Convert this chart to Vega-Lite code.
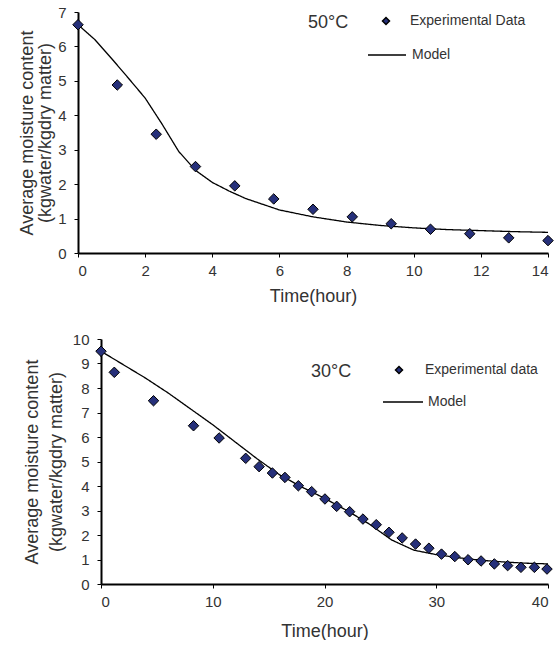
{
  "$schema": "https://vega.github.io/schema/vega-lite/v6.json",
  "background": "white",
  "padding": {"left": 18, "top": 5, "right": 0, "bottom": 0},
  "spacing": 27,
  "resolve": {"scale": {"shape": "independent", "strokeDash": "independent"}, "legend": {"shape": "independent", "strokeDash": "independent"}},
  "config": {
    "view": {"stroke": null},
    "font": "Liberation Sans",
    "axis": {
      "grid": false,
      "domainColor": "black",
      "domainWidth": 2,
      "tickColor": "black",
      "tickWidth": 1,
      "tickSize": 4,
      "labelFontSize": 15,
      "labelColor": "#333333",
      "labelOverlap": false,
      "titleFontSize": 18,
      "titleFontWeight": "normal",
      "titleColor": "#333333",
      "titleLineHeight": 18,
      "labelPadding": 6
    },
    "legend": {
      "orient": "none",
      "titleOrient": "left",
      "titleAnchor": "start",
      "titleFontSize": 18,
      "titleFontWeight": "normal",
      "titleColor": "#333333",
      "labelFontSize": 14,
      "labelColor": "#333333",
      "padding": 0
    }
  },
  "datasets": {
    "exp50": [
      {"t": 0, "m": 6.63, "series": "Experimental Data"},
      {"t": 1.17, "m": 4.88, "series": "Experimental Data"},
      {"t": 2.33, "m": 3.45, "series": "Experimental Data"},
      {"t": 3.5, "m": 2.51, "series": "Experimental Data"},
      {"t": 4.67, "m": 1.95, "series": "Experimental Data"},
      {"t": 5.83, "m": 1.57, "series": "Experimental Data"},
      {"t": 7, "m": 1.27, "series": "Experimental Data"},
      {"t": 8.17, "m": 1.05, "series": "Experimental Data"},
      {"t": 9.33, "m": 0.85, "series": "Experimental Data"},
      {"t": 10.5, "m": 0.69, "series": "Experimental Data"},
      {"t": 11.67, "m": 0.56, "series": "Experimental Data"},
      {"t": 12.83, "m": 0.44, "series": "Experimental Data"},
      {"t": 14, "m": 0.36, "series": "Experimental Data"}
    ],
    "model50": [
      {"t": 0, "m": 6.63, "series": "Model"}, {"t": 0.5, "m": 6.2, "series": "Model"}, {"t": 1, "m": 5.65, "series": "Model"}, {"t": 1.5, "m": 5.08, "series": "Model"},
      {"t": 2, "m": 4.5, "series": "Model"}, {"t": 2.5, "m": 3.75, "series": "Model"}, {"t": 3, "m": 2.95, "series": "Model"}, {"t": 3.5, "m": 2.4, "series": "Model"},
      {"t": 4, "m": 2.05, "series": "Model"}, {"t": 4.5, "m": 1.8, "series": "Model"}, {"t": 5, "m": 1.58, "series": "Model"}, {"t": 6, "m": 1.25, "series": "Model"},
      {"t": 7, "m": 1.05, "series": "Model"}, {"t": 8, "m": 0.9, "series": "Model"}, {"t": 9, "m": 0.8, "series": "Model"}, {"t": 10, "m": 0.73, "series": "Model"},
      {"t": 11, "m": 0.68, "series": "Model"}, {"t": 12, "m": 0.65, "series": "Model"}, {"t": 13, "m": 0.62, "series": "Model"}, {"t": 14, "m": 0.6, "series": "Model"}
    ],
    "exp30": [
      {"t": 0, "m": 9.5, "series": "Experimental data"},
      {"t": 1.19, "m": 8.64, "series": "Experimental data"},
      {"t": 4.7, "m": 7.48, "series": "Experimental data"},
      {"t": 8.28, "m": 6.46, "series": "Experimental data"},
      {"t": 10.57, "m": 5.96, "series": "Experimental data"},
      {"t": 12.95, "m": 5.13, "series": "Experimental data"},
      {"t": 14.15, "m": 4.79, "series": "Experimental data"},
      {"t": 15.34, "m": 4.53, "series": "Experimental data"},
      {"t": 16.46, "m": 4.35, "series": "Experimental data"},
      {"t": 17.66, "m": 4.01, "series": "Experimental data"},
      {"t": 18.85, "m": 3.77, "series": "Experimental data"},
      {"t": 20.04, "m": 3.47, "series": "Experimental data"},
      {"t": 21.09, "m": 3.17, "series": "Experimental data"},
      {"t": 22.25, "m": 2.95, "series": "Experimental data"},
      {"t": 23.44, "m": 2.65, "series": "Experimental data"},
      {"t": 24.63, "m": 2.42, "series": "Experimental data"},
      {"t": 25.77, "m": 2.11, "series": "Experimental data"},
      {"t": 26.95, "m": 1.88, "series": "Experimental data"},
      {"t": 28.15, "m": 1.63, "series": "Experimental data"},
      {"t": 29.34, "m": 1.46, "series": "Experimental data"},
      {"t": 30.47, "m": 1.22, "series": "Experimental data"},
      {"t": 31.66, "m": 1.12, "series": "Experimental data"},
      {"t": 32.85, "m": 0.99, "series": "Experimental data"},
      {"t": 34.01, "m": 0.94, "series": "Experimental data"},
      {"t": 35.2, "m": 0.82, "series": "Experimental data"},
      {"t": 36.39, "m": 0.75, "series": "Experimental data"},
      {"t": 37.58, "m": 0.68, "series": "Experimental data"},
      {"t": 38.78, "m": 0.68, "series": "Experimental data"},
      {"t": 39.91, "m": 0.61, "series": "Experimental data"}
    ],
    "model30": [
      {"t": 0, "m": 9.5, "series": "Model"}, {"t": 2, "m": 8.95, "series": "Model"}, {"t": 4, "m": 8.4, "series": "Model"}, {"t": 6, "m": 7.8, "series": "Model"},
      {"t": 8, "m": 7.15, "series": "Model"}, {"t": 10, "m": 6.5, "series": "Model"}, {"t": 12, "m": 5.8, "series": "Model"}, {"t": 14, "m": 5.1, "series": "Model"},
      {"t": 16, "m": 4.45, "series": "Model"}, {"t": 18, "m": 3.95, "series": "Model"}, {"t": 20, "m": 3.5, "series": "Model"}, {"t": 22, "m": 3.0, "series": "Model"},
      {"t": 24, "m": 2.45, "series": "Model"}, {"t": 26, "m": 1.8, "series": "Model"}, {"t": 28, "m": 1.38, "series": "Model"}, {"t": 30, "m": 1.2, "series": "Model"},
      {"t": 32, "m": 1.07, "series": "Model"}, {"t": 34, "m": 0.97, "series": "Model"}, {"t": 36, "m": 0.9, "series": "Model"}, {"t": 38, "m": 0.85, "series": "Model"},
      {"t": 40, "m": 0.82, "series": "Model"}
    ]
  },
  "vconcat": [
    {
      "width": 470,
      "height": 241,
      "encoding": {
        "x": {"field": "t", "type": "quantitative", "scale": {"domain": [0, 14], "nice": false},
          "axis": {"values": [0, 2, 4, 6, 8, 10, 12, 14], "title": "Time(hour)", "titlePadding": 9}},
        "y": {"field": "m", "type": "quantitative", "scale": {"domain": [0, 7], "nice": false},
          "axis": {"values": [0, 1, 2, 3, 4, 5, 6, 7], "labelPadding": 8, "titlePadding": 3, "titleLineHeight": 18,
            "title": ["Average moisture content", "(kgwater/kgdry matter)"]}}
      },
      "layer": [
        {
          "data": {"name": "model50"},
          "mark": {"type": "line", "color": "black", "strokeWidth": 1.3},
          "encoding": {
            "strokeDash": {"field": "series", "type": "nominal",
              "scale": {"domain": ["Model"], "range": [[1, 0]]},
              "legend": {"title": null, "legendX": 289, "legendY": 23, "symbolSize": 1444, "symbolStrokeWidth": 1.3, "symbolStrokeColor": "black", "labelOffset": 5}}
          }
        },
        {
          "data": {"name": "exp50"},
          "mark": {"type": "point", "filled": true, "fill": "#26307A", "stroke": "black", "strokeWidth": 1, "size": 110, "opacity": 1},
          "encoding": {
            "shape": {"field": "series", "type": "nominal",
              "scale": {"domain": ["Experimental Data"], "range": ["diamond"]},
              "legend": {"title": "50°C", "legendX": 230, "legendY": 2, "titlePadding": 30, "labelOffset": 17, "symbolSize": 49,
                "titleFontWeight": "normal",
                "encode": {"symbols": {"update": {"stroke": {"value": "black"}, "strokeWidth": {"value": 1}, "fill": {"value": "#26307A"}, "opacity": {"value": 1}}}}}}
          }
        }
      ]
    },
    {
      "width": 470,
      "height": 245,
      "encoding": {
        "x": {"field": "t", "type": "quantitative", "scale": {"domain": [0, 40], "nice": false, "range": [23, 470]},
          "axis": {"values": [0, 10, 20, 30, 40], "title": "Time(hour)", "titlePadding": 13}},
        "y": {"field": "m", "type": "quantitative", "scale": {"domain": [0, 10], "nice": false},
          "axis": {"values": [0, 1, 2, 3, 4, 5, 6, 7, 8, 9, 10], "offset": -23, "labelPadding": 8, "titlePadding": 7, "titleLineHeight": 24,
            "title": ["Average moisture content", "(kgwater/kgdry matter)"]}}
      },
      "layer": [
        {
          "data": {"name": "model30"},
          "mark": {"type": "line", "color": "black", "strokeWidth": 1.3},
          "encoding": {
            "strokeDash": {"field": "series", "type": "nominal",
              "scale": {"domain": ["Model"], "range": [[1, 0]]},
              "legend": {"title": null, "legendX": 304, "legendY": 42, "symbolSize": 1600, "symbolStrokeWidth": 1.3, "symbolStrokeColor": "black", "labelOffset": 4}}
          }
        },
        {
          "data": {"name": "exp30"},
          "mark": {"type": "point", "filled": true, "fill": "#26307A", "stroke": "black", "strokeWidth": 1, "size": 110, "opacity": 1},
          "encoding": {
            "shape": {"field": "series", "type": "nominal",
              "scale": {"domain": ["Experimental data"], "range": ["diamond"]},
              "legend": {"title": "30°C", "legendX": 233, "legendY": 24, "titlePadding": 40, "labelOffset": 19, "symbolSize": 49,
                "titleFontWeight": "normal",
                "encode": {"symbols": {"update": {"stroke": {"value": "black"}, "strokeWidth": {"value": 1}, "fill": {"value": "#26307A"}, "opacity": {"value": 1}}}}}}
          }
        }
      ]
    }
  ]
}
